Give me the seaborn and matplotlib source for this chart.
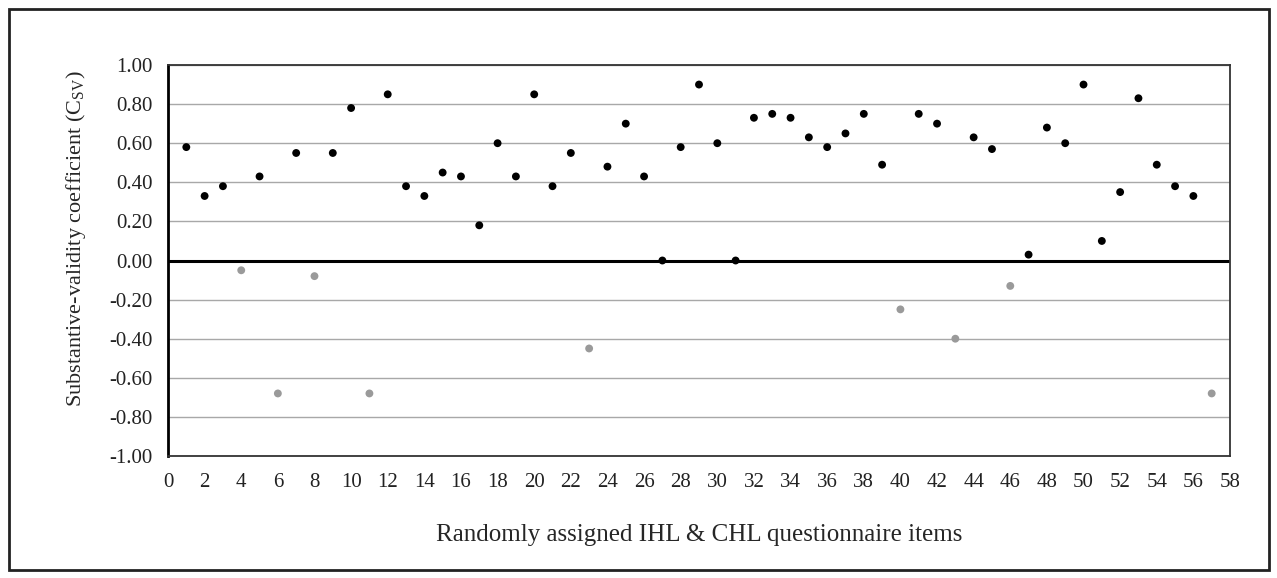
import matplotlib
matplotlib.use("Agg")
import matplotlib.pyplot as plt
import seaborn as sns
import pandas as pd
from matplotlib.patches import Rectangle

items = list(range(1, 58))
csv_values = [0.58, 0.33, 0.38, -0.05, 0.43, -0.68, 0.55, -0.08, 0.55, 0.78,
              -0.68, 0.85, 0.38, 0.33, 0.45, 0.43, 0.18, 0.60, 0.43, 0.85,
              0.38, 0.55, -0.45, 0.48, 0.70, 0.43, 0.00, 0.58, 0.90, 0.60,
              0.00, 0.73, 0.75, 0.73, 0.63, 0.58, 0.65, 0.75, 0.49, -0.25,
              0.75, 0.70, -0.40, 0.63, 0.57, -0.13, 0.03, 0.68, 0.60, 0.90,
              0.10, 0.35, 0.83, 0.49, 0.38, 0.33, -0.68]
x_ticks = list(range(0, 59, 2))
y_ticks = [-1.0, -0.8, -0.6, -0.4, -0.2, 0.0, 0.2, 0.4, 0.6, 0.8, 1.0]

df = pd.DataFrame({"item": items, "csv": csv_values})
df["sign"] = ["neg" if v < 0 else "pos" for v in df["csv"]]

sns.set_theme(style="white")
plt.rcParams["font.family"] = ["Liberation Serif", "DejaVu Serif"]
plt.rcParams["mathtext.fontset"] = "custom"
plt.rcParams["mathtext.rm"] = "Liberation Serif"
plt.rcParams["mathtext.it"] = "Liberation Serif"

fig = plt.figure(figsize=(12.77, 5.78), dpi=100)
ax = fig.add_axes([168/1277, 1-456/578, (1230-168)/1277, (456-65)/578])

for y in y_ticks:
    if y != 0.0:
        ax.axhline(y, color="#a8a8a8", lw=1.0, zorder=0)
ax.axhline(0.0, color="black", lw=2.2, zorder=1)

sns.scatterplot(data=df, x="item", y="csv", hue="sign",
                palette={"pos": "black", "neg": "#9a9a9a"},
                s=32, edgecolor="none", legend=False, ax=ax, zorder=3)

ax.set_xlim(0, 58)
ax.set_ylim(-1.0, 1.0)
ax.set_xticks(x_ticks)
ax.set_xticklabels([str(t) for t in x_ticks])
ax.set_yticks(y_ticks)
ax.set_yticklabels([f"{t:.2f}" for t in y_ticks])
ax.tick_params(axis="both", length=0, labelsize=15, colors="#222222")
ax.tick_params(axis="x", pad=12)
ax.tick_params(axis="y", pad=11)

for side in ["top", "right", "bottom"]:
    ax.spines[side].set_color("#333333")
    ax.spines[side].set_linewidth(1.3)
ax.spines["left"].set_color("black")
ax.spines["left"].set_linewidth(2.0)

ax.set_xlabel("Randomly assigned IHL & CHL questionnaire items", fontsize=18)
ax.set_ylabel("Substantive-validity coefficient (C$_{\\mathrm{SV}}$)", fontsize=16)
ax.xaxis.set_label_coords(0.5, -(541 - 456) / 391, transform=ax.transAxes)
ax.xaxis.label.set_va("baseline")
ax.yaxis.set_label_coords(-(168 - 88) / 1062, (456 - 239) / 391)

fig.patches.append(Rectangle((9/1277, 8/578), (1269-9)/1277, (570-9)/578,
                             transform=fig.transFigure, fill=False,
                             edgecolor="#222222", lw=2.0))

fig.savefig("out.png", dpi=100)
